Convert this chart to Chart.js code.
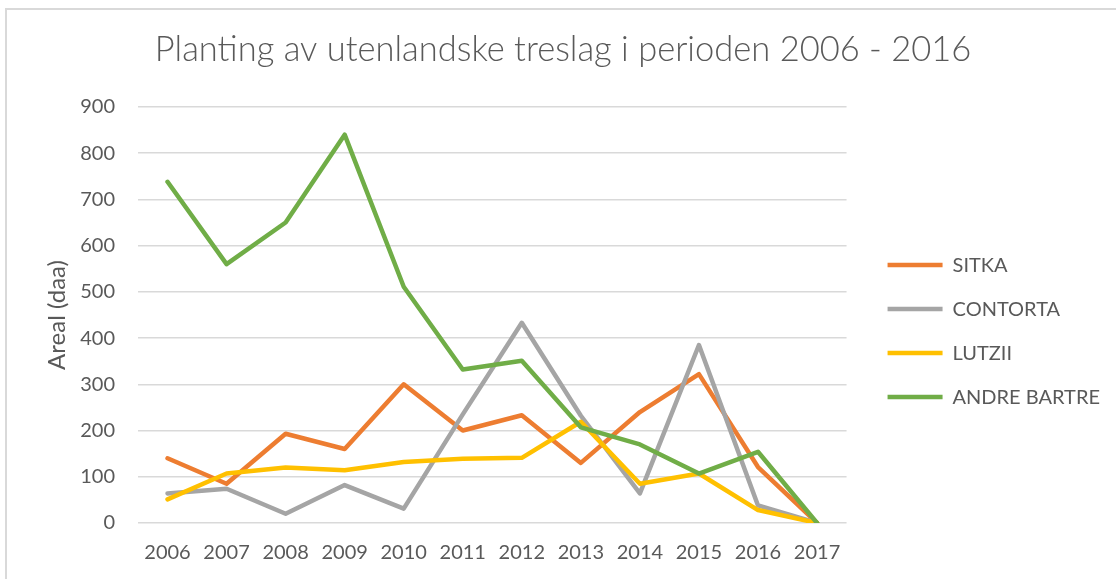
<!DOCTYPE html>
<html>
<head>
<meta charset="utf-8">
<script src="https://cdn.jsdelivr.net/npm/chart.js@4.4.1/dist/chart.umd.min.js"></script>
<style>
  html, body { margin: 0; padding: 0; background: #fff; }
  #wrap { width: 1116px; height: 579px; position: relative; }
</style>
</head>
<body>
<div id="wrap"><canvas id="mycanvas" width="1116" height="579"></canvas></div>
<script>
var years = ['2006', '2007', '2008', '2009', '2010', '2011', '2012', '2013', '2014', '2015', '2016', '2017'];
var sitka = [140, 85, 193, 160, 300, 200, 233, 130, 240, 322, 121, 0];
var contorta = [64, 74, 20, 82, 31, 235, 433, 232, 64, 385, 38, 0];
var lutzii = [51, 107, 120, 114, 132, 139, 141, 219, 85, 107, 28, 0];
var andreBartre = [738, 560, 650, 840, 511, 332, 351, 207, 170, 107, 154, 0];
var yTicks = [0, 100, 200, 300, 400, 500, 600, 700, 800, 900];

var textColor = '#595959';
var gridColor = '#d9d9d9';

// white background + the thin frame round the chart
var frame = {
	id: 'frame',
	beforeDraw: function(chart) {
		var c = chart.ctx;
		c.save();
		c.fillStyle = '#fff';
		c.fillRect(0, 0, chart.width, chart.height);
		c.strokeStyle = gridColor;
		c.lineWidth = 2;
		c.strokeRect(6, 9, chart.width + 20, chart.height + 20);
		c.restore();
	}
};

function serie(label, data, color, order) {
	return {
		label: label,
		data: data,
		borderColor: color,
		backgroundColor: color,
		borderWidth: 4.5,
		borderJoinStyle: 'round',
		borderCapStyle: 'round',
		pointRadius: 0,
		pointHoverRadius: 0,
		tension: 0,
		fill: false,
		order: order
	};
}

var chartdata = {
	labels: years,
	datasets: [
		serie('SITKA', sitka, '#ED7D31', 4),
		serie('CONTORTA', contorta, '#A5A5A5', 3),
		serie('LUTZII', lutzii, '#FFC000', 2),
		serie('ANDRE BARTRE', andreBartre, '#70AD47', 1)
	]
};

var ctx = document.getElementById('mycanvas');

var lineGraph = new Chart(ctx, {
	type: 'line',
	data: chartdata,
	plugins: [frame],
	options: {
		responsive: false,
		animation: false,
		layout: { padding: { left: 16, right: 6, top: 0, bottom: 0 } },
		plugins: {
			title: {
				display: true,
				text: 'Planting av utenlandske treslag i perioden 2006 - 2016',
				color: textColor,
				font: { family: 'Lato', size: 34.5, weight: '300' },
				padding: { top: 29, bottom: 36.5 }
			},
			legend: {
				display: true,
				position: 'right',
				// blank title only pushes the items down a bit
				title: { display: true, text: ' ', font: { size: 1 }, padding: { top: 0, bottom: 82 } },
				labels: {
					usePointStyle: true,
					pointStyle: 'line',
					pointStyleWidth: 55,
					padding: 24,
					color: textColor,
					font: { family: 'Lato', size: 20 },
					sort: function(a, b) { return a.datasetIndex - b.datasetIndex; }
				}
			},
			tooltip: { enabled: false }
		},
		scales: {
			x: {
				offset: true,
				grid: { display: false, drawTicks: false },
				border: { display: false },
				afterFit: function(scale) { scale.height = 56; },
				ticks: {
					color: textColor,
					font: { family: 'Lato', size: 20 },
					padding: 17.5,
					maxRotation: 0
				}
			},
			y: {
				min: 0,
				max: 900,
				afterBuildTicks: function(scale) {
					scale.ticks = yTicks.map(function(v) { return { value: v }; });
				},
				afterFit: function(scale) { scale.width = 122; },
				grid: { color: gridColor, lineWidth: 1.5, drawTicks: false },
				border: { display: false },
				ticks: {
					color: textColor,
					font: { family: 'Lato', size: 20 },
					padding: 23
				},
				title: {
					display: true,
					text: 'Areal (daa)',
					color: textColor,
					font: { family: 'Lato', size: 24 },
					padding: { top: 27, bottom: 0 }
				}
			},
			// hidden right-hand scale, only keeps a gap between plot and legend
			gap: {
				type: 'linear',
				position: 'right',
				display: false,
				afterFit: function(scale) { scale.width = 17; }
			}
		}
	}
});
</script>
</body>
</html>
